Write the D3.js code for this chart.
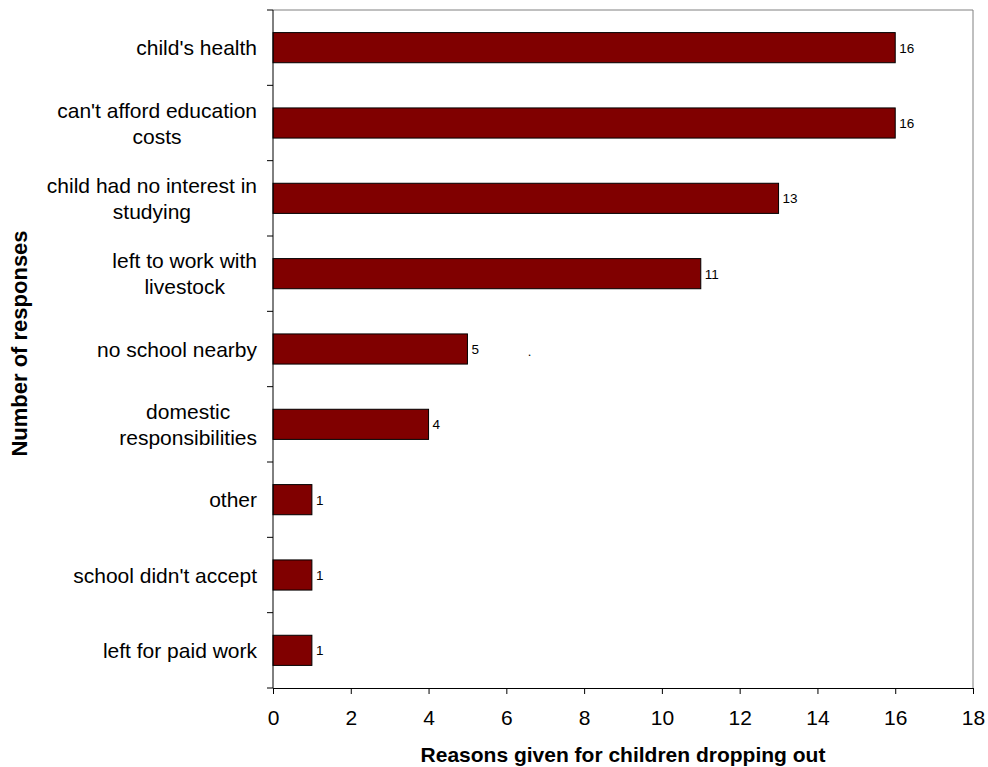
<!DOCTYPE html>
<html><head><meta charset="utf-8">
<script src="https://cdn.jsdelivr.net/npm/d3@7"></script>
<style>body{margin:0;background:#fff}svg{display:block}text{font-family:Arial,"Liberation Sans",sans-serif}</style>
</head><body>
<svg id="chart" width="988" height="767"></svg>
<script>
const categories = [
  ["child's health"],
  ["can't afford education", "costs"],
  ["child had no interest in", "studying"],
  ["left to work with", "livestock"],
  ["no school nearby"],
  ["domestic", "responsibilities"],
  ["other"],
  ["school didn't accept"],
  ["left for paid work"]
];
const values = [16, 16, 13, 11, 5, 4, 1, 1, 1];
const xTicks = [0, 2, 4, 6, 8, 10, 12, 14, 16, 18];
const xTitle = "Reasons given for children dropping out";
const yTitle = "Number of responses";

const svg = d3.select("#chart");
const L = 273, R = 973, T = 10, B = 688;
const x = d3.scaleLinear().domain([0, 18]).range([L, R]);
const idx = categories.map((d, i) => i);
const y = d3.scaleBand().domain(idx).range([T, B]).paddingInner(0.6).paddingOuter(0.3);
const yb = d3.scaleBand().domain(idx).range([T, B]);

// plot border (top, right)
svg.append("path").attr("d", `M${L},${T}H${R}V${B}`).attr("fill", "none").attr("stroke", "#808080").attr("stroke-width", 1);

// bars
svg.append("g").selectAll("rect").data(values).join("rect")
  .attr("x", x(0)).attr("y", (d, i) => y(i))
  .attr("width", d => x(d) - x(0)).attr("height", y.bandwidth())
  .attr("fill", "#800000").attr("stroke", "#000").attr("stroke-width", 1);

// value labels
svg.append("g").selectAll("text").data(values).join("text")
  .attr("x", d => x(d) + 4).attr("y", (d, i) => y(i) + y.bandwidth() / 2)
  .attr("dy", "0.36em").attr("font-size", 13.5).attr("fill", "#000").text(d => d);

// stray dot present in the original
svg.append("text").attr("x", x(6.55)).attr("y", 356).attr("font-size", 13).text(".");

// x axis
const xAxis = d3.axisBottom(x).tickValues(xTicks).tickSize(6).tickSizeOuter(0).tickPadding(16);
const gx = svg.append("g").attr("transform", `translate(0,${B})`).call(xAxis);
gx.select(".domain").attr("stroke", "#000");
gx.selectAll(".tick line").attr("stroke", "#000");
gx.selectAll(".tick text").attr("font-size", 21).attr("font-family", "Arial, 'Liberation Sans', sans-serif").attr("fill", "#000");

// y axis line and ticks at band boundaries
svg.append("line").attr("x1", L).attr("x2", L).attr("y1", T).attr("y2", B).attr("stroke", "#000");
const bounds = idx.map(i => yb(i)).concat([B]);
svg.append("g").selectAll("line").data(bounds).join("line")
  .attr("x1", L - 6).attr("x2", L).attr("y1", d => d).attr("y2", d => d).attr("stroke", "#000");

// category labels: lines centered within block, block right aligned
const labelRight = 257, lh = 26;
categories.forEach((lines, i) => {
  const g = svg.append("g");
  const cy = yb(i) + yb.bandwidth() / 2;
  const texts = lines.map((ln, j) => g.append("text")
    .attr("font-size", 21).attr("fill", "#000").attr("text-anchor", "middle")
    .attr("y", cy + (j - (lines.length - 1) / 2) * lh).attr("dy", "0.36em").text(ln));
  const w = d3.max(texts, t => t.node().getComputedTextLength());
  texts.forEach(t => t.attr("x", labelRight - w / 2));
});

// axis titles
svg.append("text").attr("x", (L + R) / 2).attr("y", 762).attr("text-anchor", "middle")
  .attr("font-size", 21).attr("font-weight", "bold").text(xTitle);
svg.append("text").attr("transform", `translate(27,343.5) rotate(-90)`)
  .attr("text-anchor", "middle").attr("font-size", 22).attr("font-weight", "bold").text(yTitle);
</script>
</body></html>
